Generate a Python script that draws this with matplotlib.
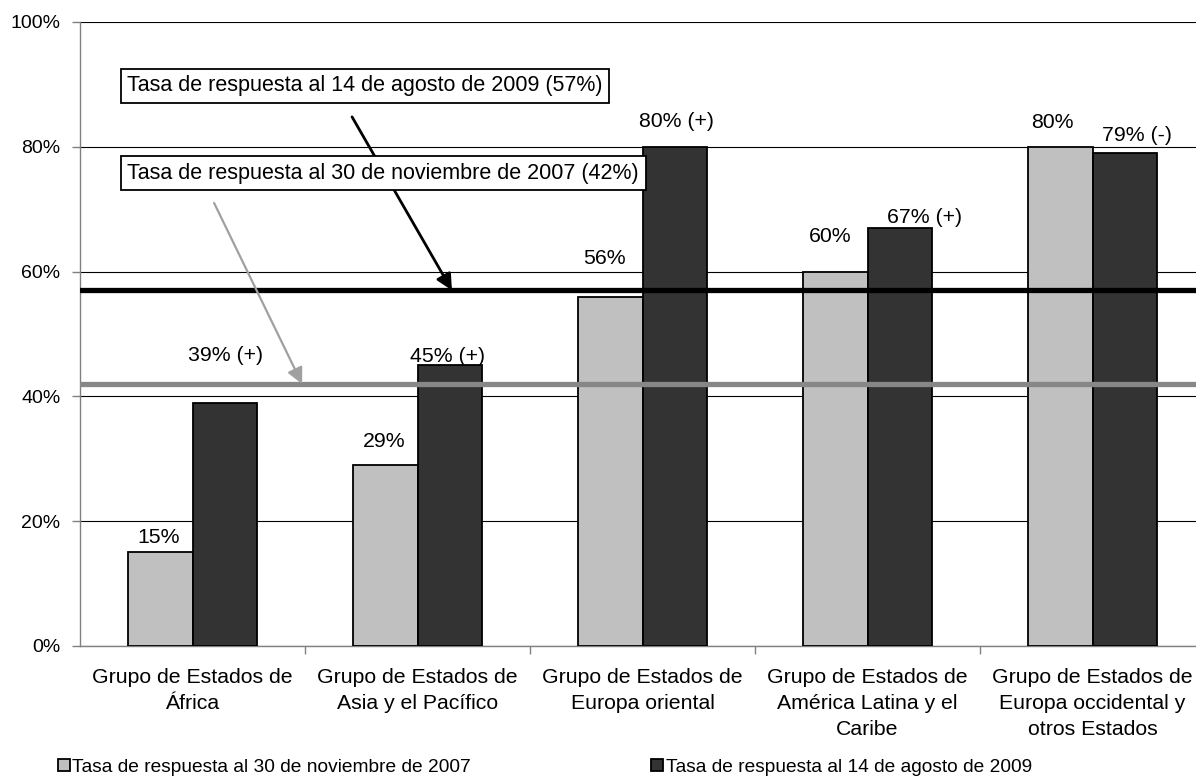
import matplotlib
matplotlib.use('Agg')
import matplotlib.pyplot as plt
import numpy as np
from matplotlib.patches import Patch
from matplotlib.ticker import FuncFormatter

plt.rcParams['font.family'] = ['Liberation Sans', 'DejaVu Sans']

# Response rates by regional group
categories = [
    'Grupo de Estados de\nÁfrica',
    'Grupo de Estados de\nAsia y el Pacífico',
    'Grupo de Estados de\nEuropa oriental',
    'Grupo de Estados de\nAmérica Latina y el\nCaribe',
    'Grupo de Estados de\nEuropa occidental y\notros Estados',
]
rate_2007 = [15, 29, 56, 60, 80]
rate_2009 = [39, 45, 80, 67, 79]
overall_2007 = 42
overall_2009 = 57
series_names = ['Tasa de respuesta al 30 de noviembre de 2007',
                'Tasa de respuesta al 14 de agosto de 2009']

# hand-placed label nudges (pixels) so labels clear the overall lines
offsets_2007 = [(-2, 15), (-1, 24), (-6, 38), (-5, 35), (-8, 24)]
offsets_2009 = [(1, 47), (-2, 9), (2, 25), (25, 10), (12, 18)]

LIGHT = '#c0c0c0'
DARK = '#333333'
W, H = 1196, 780

fig = plt.figure(figsize=(W / 100, H / 100), dpi=100)
ax = fig.add_axes([80 / W, 1 - 646 / H, 1125 / W, 624 / H])

x = np.arange(len(categories))
bw = 0.287
ax.bar(x - bw / 2, rate_2007, bw, color=LIGHT, edgecolor='black', linewidth=1.3, zorder=3)
ax.bar(x + bw / 2, rate_2009, bw, color=DARK, edgecolor='black', linewidth=1.3, zorder=3)

for xi, v, (dx, dy) in zip(x, rate_2007, offsets_2007):
    ax.annotate(f'{v}%', xy=(xi - bw / 2, v), xytext=(dx, dy), textcoords='offset pixels',
                ha='center', va='center', fontsize=15.3, zorder=6)
for xi, v, old, (dx, dy) in zip(x, rate_2009, rate_2007, offsets_2009):
    sign = '+' if v > old else '-'
    ax.annotate(f'{v}% ({sign})', xy=(xi + bw / 2, v), xytext=(dx, dy), textcoords='offset pixels',
                ha='center', va='center', fontsize=15.3, zorder=6)

# overall response rate lines
ax.axhline(overall_2009, color='black', linewidth=3.8, zorder=4)
ax.axhline(overall_2007, color='#878787', linewidth=3.8, zorder=4)

box = dict(boxstyle='square,pad=0.3', fc='white', ec='black', lw=1.3)
ax.text(-0.289, 89.8, f'Tasa de respuesta al 14 de agosto de 2009 ({overall_2009}%)',
        ha='left', va='center', fontsize=15.5, bbox=box, zorder=7)
ax.text(-0.289, 75.8, f'Tasa de respuesta al 30 de noviembre de 2007 ({overall_2007}%)',
        ha='left', va='center', fontsize=15.5, bbox=box, zorder=7)

ax.annotate('', xy=(1.153, overall_2009), xytext=(0.709, 84.8),
            arrowprops=dict(arrowstyle='-|>', color='black', lw=2, mutation_scale=24,
                            shrinkA=0, shrinkB=0), zorder=5)
ax.annotate('', xy=(0.487, overall_2007), xytext=(0.096, 71.0),
            arrowprops=dict(arrowstyle='-|>', color='#a0a0a0', lw=1.6, mutation_scale=24,
                            shrinkA=0, shrinkB=0), zorder=5)

ax.set_xlim(-0.5, 4.5)
ax.set_ylim(0, 100)
ax.set_yticks(range(0, 101, 20))
ax.yaxis.set_major_formatter(FuncFormatter(lambda v, _: f'{v:.0f}%'))
ax.yaxis.grid(True, color='black', linewidth=0.8)
ax.set_axisbelow(True)

ax.set_xticks(x)
ax.set_xticklabels(categories, fontsize=15.3, linespacing=1.45)
ax.set_xticks(np.arange(0.5, 4.5, 1), minor=True)
ax.tick_params(axis='x', which='major', length=0, pad=16)
ax.tick_params(axis='x', which='minor', length=6, color='#808080', width=1)
ax.tick_params(axis='y', length=6, color='#808080', width=1, labelsize=14, pad=8)

for side in ('top', 'right'):
    ax.spines[side].set_visible(False)
for side in ('left', 'bottom'):
    ax.spines[side].set_color('#808080')
    ax.spines[side].set_linewidth(1)

handles = [Patch(facecolor=LIGHT, edgecolor='black', linewidth=1.3),
           Patch(facecolor=DARK, edgecolor='black', linewidth=1.3)]
fig.legend(handles, series_names, loc='center', bbox_to_anchor=(545 / W, 1 - 767 / H),
           ncol=2, frameon=False, fontsize=13.8, handlelength=0.6, handleheight=0.6,
           handletextpad=0.15, columnspacing=9.4)

fig.savefig('out.png', dpi=100)
